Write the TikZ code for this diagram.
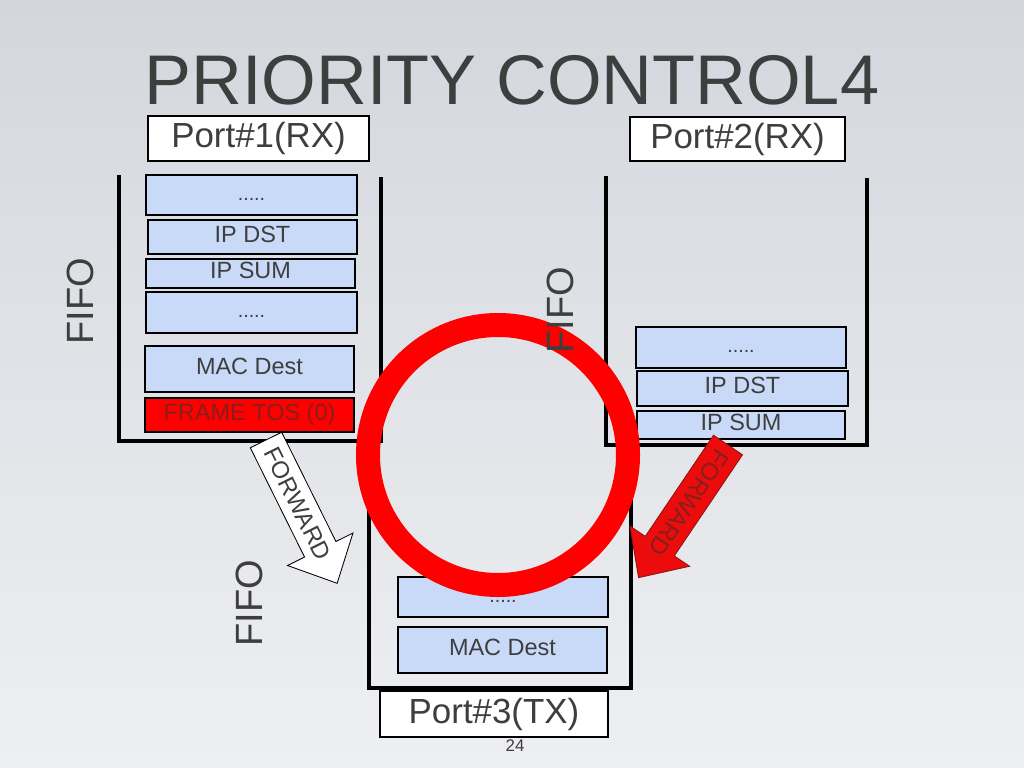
\documentclass[tikz,border=0pt]{standalone}
\usepackage{fontspec}
\setmainfont{Liberation Sans}
\usetikzlibrary{positioning}
\definecolor{inktext}{RGB}{62,62,62}
\definecolor{cellblue}{RGB}{201,218,248}
\definecolor{slidetop}{RGB}{211,215,221}
\definecolor{slidemid}{RGB}{232,234,238}
\definecolor{slidebot}{RGB}{238,239,242}
\definecolor{tostext}{RGB}{135,30,30}
\definecolor{arrowred}{RGB}{236,12,12}
\definecolor{arrowedge}{RGB}{140,20,20}

\begin{document}
\begin{tikzpicture}[x=0.025cm, y=-0.025cm,
  field/.style={draw=black, line width=1.8pt, fill=cellblue, text=inktext, inner sep=0pt,
    text height=0.72em, text depth=0pt, font=\fontsize{16.7}{20}\selectfont},
  dotsfield/.style={field, font=\fontsize{14}{16}\selectfont},
  portlabel/.style={draw=black, line width=0.9pt, fill=white, text=inktext, inner sep=0pt,
    font=\fontsize{24.8}{30}\selectfont},
  fifolabel/.style={rotate=90, text=inktext, font=\fontsize{27}{32}\selectfont},
  wall/.style={line width=2.2pt, black}]
% slide background
\shade[top color=slidetop, middle color=slidemid, bottom color=slidebot] (0,0) rectangle (1024,768);
\useasboundingbox (0,0) rectangle (1024,768);

\node[text=inktext, font=\fontsize{50}{60}\selectfont] (title) at (512,80) {PRIORITY CONTROL4};
\node[portlabel, minimum width=5.525cm, minimum height=1.125cm] (port1) at (258.5,138.5) {Port\#1(RX)};
\node[portlabel, minimum width=5.375cm, minimum height=1.1cm] (port2) at (737.5,139) {Port\#2(RX)};

% fifo walls
\draw[wall] (119,175) -- (119,441) -- (381,441) -- (381,177);
\draw[wall] (606,176) -- (606,445) -- (867,445) -- (867,178);
\draw[wall] (369,441) -- (369,688) -- (631,688) -- (631,445);

% port 1 queue
\node[dotsfield, minimum width=5.275cm, minimum height=1cm] (dotsA) at (251.5,195) {.....};
\node[field, minimum width=5.225cm, minimum height=0.85cm] (ipdstA) at (252.5,237) {IP DST};
\node[field, minimum width=5.225cm, minimum height=0.725cm] (ipsumA) at (250.5,273.5) {IP SUM};
\node[dotsfield, minimum width=5.275cm, minimum height=1.025cm] (dotsB) at (251.5,312.5) {.....};
\node[field, minimum width=5.225cm, minimum height=1.15cm] (macA) at (249.5,369) {MAC Dest};
\node[field, fill=red, text=tostext, minimum width=5.225cm, minimum height=0.85cm] (tosA) at (249.5,415) {FRAME TOS (0)};

% port 2 queue
\node[dotsfield, minimum width=5.25cm, minimum height=1.025cm] (dotsC) at (741,347.5) {.....};
\node[field, minimum width=5.275cm, minimum height=0.875cm] (ipdstC) at (742.5,388.5) {IP DST};
\node[field, minimum width=5.2cm, minimum height=0.7cm] (ipsumC) at (741,425) {IP SUM};

% port 3 queue
\node[dotsfield, minimum width=5.25cm, minimum height=1cm] (dotsD) at (503,597) {.....};
\node[field, minimum width=5.225cm, minimum height=1.15cm] (macD) at (502.5,650) {MAC Dest};
\node[portlabel, minimum width=5.7cm, minimum height=1.15cm] (port3) at (494,714) {Port\#3(TX)};
\node[text=inktext, font=\fontsize{12}{14}\selectfont] (pagenum) at (515,746) {24};

% forward arrows
\begin{scope}[shift={(266,440)}, rotate=-63.6]
  \draw[fill=white, draw=black, line width=0.6pt] (0,-17.5) -- (122,-17.5) -- (122,-36.5) -- (160,0)
    -- (122,36.5) -- (122,17.5) -- (0,17.5) -- cycle;
  \node[rotate=-63.6, text=inktext, font=\fontsize{17}{20}\selectfont] (fwdA) at (71,0) {FORWARD};
\end{scope}
\begin{scope}[shift={(728,445)}, rotate=-124]
  \draw[fill=arrowred, draw=arrowedge, line width=0.6pt] (0,-17.5) -- (122,-17.5) -- (122,-36) -- (160,0)
    -- (122,36) -- (122,17.5) -- (0,17.5) -- cycle;
  \node[rotate=-124, text=tostext, font=\fontsize{17}{20}\selectfont] (fwdC) at (70,0) {FORWARD};
\end{scope}

% priority ring
\draw[red, line width=0.6cm] (498,455) circle[radius=130];

\node[fifolabel] (fifoA) at (80,301) {FIFO};
\node[fifolabel] (fifoB) at (560,310) {FIFO};
\node[fifolabel] (fifoC) at (249,603) {FIFO};
\end{tikzpicture}
\end{document}
